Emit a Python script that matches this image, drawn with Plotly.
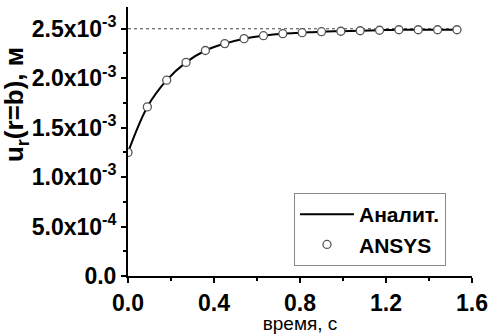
import plotly.graph_objects as go

# Data
time_s = [0.0, 0.09, 0.18, 0.27, 0.36, 0.45, 0.54, 0.63, 0.72, 0.81,
          0.90, 0.99, 1.08, 1.17, 1.26, 1.35, 1.44, 1.53]
ansys_u = [1.25e-3, 1.71e-3, 1.98e-3, 2.16e-3, 2.28e-3, 2.35e-3, 2.40e-3, 2.43e-3,
           2.45e-3, 2.46e-3, 2.47e-3, 2.475e-3, 2.48e-3, 2.485e-3, 2.49e-3,
           2.49e-3, 2.49e-3, 2.49e-3]
analytic_u = ansys_u
asymptote = 2.5e-3

x_ticks = [0.0, 0.4, 0.8, 1.2, 1.6]
x_ticktext = ["0.0", "0.4", "0.8", "1.2", "1.6"]
y_ticks = [0.0, 5e-4, 1e-3, 1.5e-3, 2e-3, 2.5e-3]
y_ticktext = ["0.0", "5.0x10<sup>-4</sup>", "1.0x10<sup>-3</sup>",
              "1.5x10<sup>-3</sup>", "2.0x10<sup>-3</sup>", "2.5x10<sup>-3</sup>"]

FONT = "Liberation Sans, Arial, sans-serif"

fig = go.Figure()
fig.add_trace(go.Scatter(
    x=[time_s[0], time_s[-1]], y=[asymptote, asymptote], mode="lines",
    line=dict(color="#444", width=1, dash="3px,3px"), showlegend=False, hoverinfo="skip"))
fig.add_trace(go.Scatter(
    x=time_s, y=analytic_u, mode="lines", name="Аналит.",
    line=dict(color="black", width=2, shape="spline")))
fig.add_trace(go.Scatter(
    x=time_s, y=ansys_u, mode="markers", name="ANSYS",
    marker=dict(symbol="circle", size=8, color="white",
                line=dict(color="#555", width=1.3))))

axis_common = dict(showline=True, linecolor="black", linewidth=2, ticks="outside",
                   ticklen=5, tickwidth=2, tickcolor="black", showgrid=False,
                   zeroline=False, mirror=False, automargin=False,
                   tickfont=dict(family=FONT, size=23, color="black", weight="bold"))

fig.update_xaxes(range=[0, 1.6], tickvals=x_ticks, ticktext=x_ticktext,
                 minor=dict(ticks="outside", ticklen=3, tickwidth=2, tickcolor="black",
                            dtick=0.2, tick0=0, showgrid=False),
                 title=dict(text="время, с", font=dict(family=FONT, size=19, color="black"),
                            standoff=3),
                 **axis_common)
fig.update_yaxes(range=[0, 2.72e-3], tickvals=y_ticks, ticktext=y_ticktext,
                 minor=dict(ticks="outside", ticklen=3, tickwidth=2, tickcolor="black",
                            dtick=2.5e-4, tick0=0, showgrid=False),
                 **axis_common)

fig.add_annotation(text="<b>u<sub>r</sub>(r=b), м</b>", textangle=-90,
                   xref="paper", yref="paper", x=-0.325, y=0.636,
                   xanchor="center", yanchor="middle", showarrow=False,
                   font=dict(family=FONT, size=26, color="black"))

fig.update_layout(
    width=491, height=334,
    margin=dict(l=128, r=19, t=7, b=58),
    paper_bgcolor="white", plot_bgcolor="white",
    legend=dict(x=0.4826, y=0.3086, xanchor="left", yanchor="top",
                bordercolor="#888", borderwidth=1, bgcolor="white",
                font=dict(family=FONT, size=21, color="black", weight="bold"),
                itemwidth=54, tracegroupgap=0),
)

fig.write_html("out.html", config={"displayModeBar": False},
               post_script="document.body.style.margin='0';document.body.style.padding='0';")
